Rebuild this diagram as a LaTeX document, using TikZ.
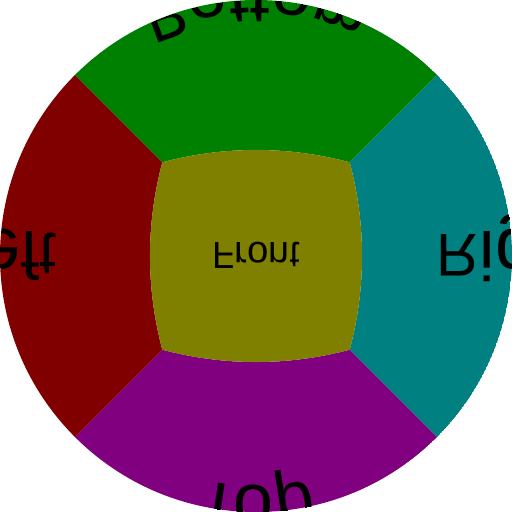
\documentclass[tikz,border=0pt]{standalone}
\usepackage{fontspec}
\newfontfamily\glyphfont{Liberation Sans}
\def\gf{\glyphfont\fontsize{30}{36}\selectfont}
\definecolor{facefront}{RGB}{128,128,0}
\definecolor{facetop}{RGB}{0,128,0}
\definecolor{faceright}{RGB}{0,128,128}
\definecolor{facebottom}{RGB}{128,0,128}
\definecolor{faceleft}{RGB}{128,0,0}
\tikzset{glyph/.style={transform shape, anchor=base west, inner sep=0pt, outer sep=0pt, font=\gf, text=black}}
% widths are measured outside the picture (fonts are null inside it)
\newcommand\premeasure[2]{%
  \setbox0\hbox{\gf #1}\expandafter\xdef\csname wtot@#1\endcsname{\the\wd0}%
  \gdef\pref{}%
  \foreach \ch in {#2}{%
    \xdef\pref{\pref\ch}%
    \setbox0\hbox{\gf\pref}\expandafter\xdef\csname wp@\pref\endcsname{\the\wd0}%
    \setbox2\hbox{\gf\ch}\expandafter\xdef\csname wc@\ch\endcsname{\the\wd2}%
  }}
% stereographic projection of a point (a,b) of a cube face
\newcommand\projF[3]{%
  \pgfmathsetmacro\qa{#2}\pgfmathsetmacro\qb{#3}%
  \pgfmathsetmacro\nn{sqrt(1+(\qa)*(\qa)+(\qb)*(\qb))}%
  \ifcase#1\relax
    \pgfmathsetmacro\PX{256*(\qa)/(\nn+1)}\pgfmathsetmacro\PY{-256*(\qb)/(\nn+1)}%
  \or
    \pgfmathsetmacro\PX{256/(\nn-(\qa))}\pgfmathsetmacro\PY{-256*(\qb)/(\nn-(\qa))}%
  \or
    \pgfmathsetmacro\PX{-256/(\nn+(\qa))}\pgfmathsetmacro\PY{-256*(\qb)/(\nn+(\qa))}%
  \or
    \pgfmathsetmacro\PX{256*(\qa)/(\nn+(\qb))}\pgfmathsetmacro\PY{256/(\nn+(\qb))}%
  \or
    \pgfmathsetmacro\PX{256*(\qa)/(\nn-(\qb))}\pgfmathsetmacro\PY{-256/(\nn-(\qb))}%
  \fi}
\newcommand\glyphat[6]{%
  \pgfmathsetmacro\gpa{#4}\pgfmathsetmacro\gpb{#5}%
  \projF{#1}{\gpa+0.01}{\gpb}\let\Xa\PX\let\Ya\PY
  \projF{#1}{\gpa-0.01}{\gpb}\let\Xb\PX\let\Yb\PY
  \projF{#1}{\gpa}{\gpb+0.01}\let\Xc\PX\let\Yc\PY
  \projF{#1}{\gpa}{\gpb-0.01}\let\Xd\PX\let\Yd\PY
  \projF{#1}{\gpa}{\gpb}%
  \pgfmathsetmacro\Ja{((\Xa)-(\Xb))/2}%
  \pgfmathsetmacro\Jb{((\Ya)-(\Yb))/2}%
  \pgfmathsetmacro\Jc{((\Xc)-(\Xd))/2}%
  \pgfmathsetmacro\Jd{((\Yc)-(\Yd))/2}%
  \pgfmathsetmacro\glx{100*((#2)-(\gpa))}%
  \pgfmathsetmacro\gly{100*((#3)-(\gpb))}%
  \begin{scope}[cm={\Ja,\Jb,\Jc,\Jd,(\PX pt,\PY pt)}]
    \node[glyph,name=g#1\pref] at (\glx pt,\gly pt) {#6};
  \end{scope}}
% #1 face, #2 word, #3 letters, #4 reference b, #5 reference a expression
\newcommand\placeword[5]{%
  \edef\wtot{\csname wtot@#2\endcsname}%
  \pgfmathsetmacro\astart{-0.005*\wtot}%
  \gdef\pref{}%
  \foreach \ch in {#3}{%
    \xdef\pref{\pref\ch}%
    \edef\wpref{\csname wp@\pref\endcsname}%
    \edef\wch{\csname wc@\ch\endcsname}%
    \pgfmathsetmacro\azero{\astart+0.01*(\wpref-\wch)}%
    \pgfmathsetmacro\acen{\azero+0.005*\wch}%
    \pgfmathsetmacro\apa{#5}%
    \glyphat{#1}{\azero}{-0.1074}{\apa}{#4}{\ch}%
  }}
\def\frontpath{(-93.70,93.70) arc[start angle=105,end angle=75,radius=362.04]
  arc[start angle=15,end angle=-15,radius=362.04]
  arc[start angle=-75,end angle=-105,radius=362.04]
  arc[start angle=195,end angle=165,radius=362.04] -- cycle}
\def\toppath{(-93.70,93.70) -- (-181.02,181.02) arc[start angle=135,end angle=45,radius=256]
  -- (93.70,93.70) arc[start angle=75,end angle=105,radius=362.04] -- cycle}
\def\rightpath{(93.70,93.70) -- (181.02,181.02) arc[start angle=45,end angle=-45,radius=256]
  -- (93.70,-93.70) arc[start angle=-15,end angle=15,radius=362.04] -- cycle}
\def\bottompath{(93.70,-93.70) -- (181.02,-181.02) arc[start angle=-45,end angle=-135,radius=256]
  -- (-93.70,-93.70) arc[start angle=-105,end angle=-75,radius=362.04] -- cycle}
\def\leftpath{(-93.70,-93.70) -- (-181.02,-181.02) arc[start angle=225,end angle=135,radius=256]
  -- (-93.70,93.70) arc[start angle=165,end angle=195,radius=362.04] -- cycle}
\begin{document}
\premeasure{Front}{F,r,o,n,t}%
\premeasure{Bottom}{B,o,t,t,o,m}%
\premeasure{Top}{T,o,p}%
\premeasure{Right}{R,i,g,h,t}%
\premeasure{Left}{L,e,f,t}%
\begin{tikzpicture}[x=1pt,y=1pt]
\fill[white] (-256,-256) rectangle (256,256);
\useasboundingbox (-256,-256) rectangle (256,256);
\begin{scope}
  \clip (0,0) circle[radius=256];
  \fill[facetop] \toppath;
  \fill[faceright] \rightpath;
  \fill[facebottom] \bottompath;
  \fill[faceleft] \leftpath;
  \fill[facefront] \frontpath;
  \begin{scope}
    \clip \frontpath;
    \placeword{0}{Front}{F,r,o,n,t}{0}{\acen}
  \end{scope}
  \begin{scope}
    \clip \toppath;
    \placeword{3}{Bottom}{B,o,t,t,o,m}{0.05}{\acen}
  \end{scope}
  \begin{scope}
    \clip \bottompath;
    \placeword{4}{Top}{T,o,p}{-0.06}{\acen}
  \end{scope}
  \begin{scope}
    \clip \rightpath;
    \placeword{1}{Right}{R,i,g}{0}{min(\acen,-0.03)}
  \end{scope}
  \begin{scope}
    \clip \leftpath;
    \placeword{2}{Left}{L,e,f,t}{0}{max(\acen,0.03)}
  \end{scope}
\end{scope}
\end{tikzpicture}
\end{document}
